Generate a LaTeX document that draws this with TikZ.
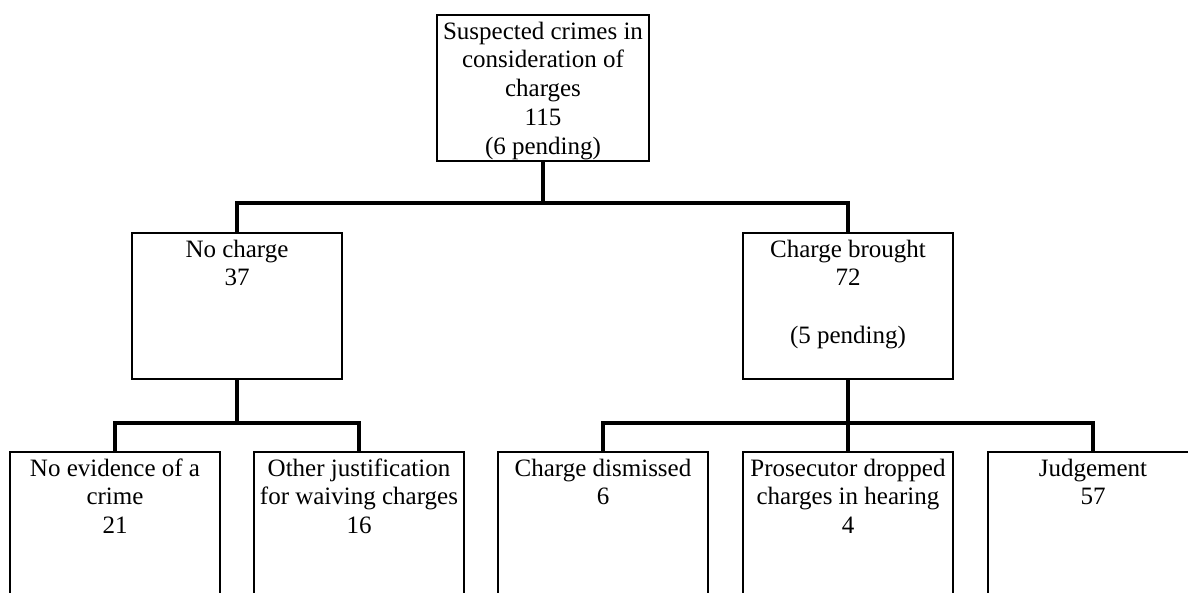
\documentclass[tikz,border=0pt]{standalone}
\usepackage{fontspec}
\setmainfont{Liberation Serif}
\newcommand\bxt[3]{\parbox[t][#2][t]{#1}{\centering\vspace*{4pt}\strut #3}}
\begin{document}
\begin{tikzpicture}[x=1pt,y=-1pt,
  box/.style={draw, line width=1.2pt, inner sep=0pt, outer sep=0pt, anchor=north west,
    font=\fontsize{25pt}{28.75pt}\selectfont},
  conn/.style={line width=3.8pt, line join=miter, line cap=butt}]
\useasboundingbox (0,0) rectangle (1188,592);
\clip (0,0) rectangle (1188,592);
\fill[white] (0,0) rectangle (1188,592);
% nodes
\node[box] (top) at (437,15) {\bxt{212pt}{146pt}{Suspected crimes in\\ consideration of\\ charges\\ 115\\ (6 pending)}};
\node[box] (nocharge) at (132,233) {\bxt{210pt}{146pt}{No charge\\ 37}};
\node[box] (brought) at (743,233) {\bxt{210pt}{146pt}{Charge brought\\ 72\\[28.75pt] (5 pending)}};
\node[box] (noevid) at (10,452) {\bxt{210pt}{170pt}{No evidence of a\\ crime\\ 21}};
\node[box] (other) at (254,452) {\bxt{210pt}{170pt}{Other justification\\ for waiving charges\\ 16}};
\node[box] (dismissed) at (498,452) {\bxt{210pt}{170pt}{Charge dismissed\\ 6}};
\node[box] (dropped) at (743,452) {\bxt{210pt}{170pt}{Prosecutor dropped\\ charges in hearing\\ 4}};
\node[box] (judgement) at (988,452) {\bxt{210pt}{170pt}{Judgement\\ 57}};
% junction coordinates
\coordinate (j1) at (543,203);
\coordinate (j2) at (237,423);
\coordinate (j3) at (848,423);
% connectors
\draw[conn] (top.south) -- (top.south |- j1);
\draw[conn] (nocharge.north) -- (nocharge.north |- j1) -- (brought.north |- j1) -- (brought.north);
\draw[conn] (nocharge.south) -- (nocharge.south |- j2);
\draw[conn] (noevid.north) -- (noevid.north |- j2) -- (other.north |- j2) -- (other.north);
\draw[conn] (brought.south) -- (brought.south |- j3);
\draw[conn] (dismissed.north) -- (dismissed.north |- j3) -- (judgement.north |- j3) -- (judgement.north);
\draw[conn] (dropped.north) -- (dropped.north |- j3);
\end{tikzpicture}
\end{document}
